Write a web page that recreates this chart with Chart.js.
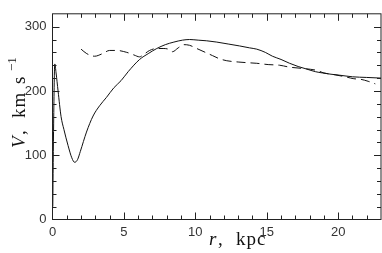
<!DOCTYPE html>
<html>
<head>
<meta charset="utf-8">
<script src="https://cdn.jsdelivr.net/npm/chart.js@4/dist/chart.umd.min.js"></script>
<style>
  html, body { margin: 0; padding: 0; background: #fff; }
  canvas { display: block; }
</style>
</head>
<body>
<canvas id="c" width="382" height="253"></canvas>
<script>
/* chart data */

// solid curve: radius (kpc) and rotation speed (km/s)
var solidR = [0.02, 0.08, 0.16, 0.25, 0.39, 0.6, 0.8, 1.09, 1.35, 1.55, 1.75, 1.95, 2.38, 2.84, 3.3, 3.78, 4.3, 4.8, 5.3, 6.1, 6.7, 7.3, 7.9, 8.5, 9.1, 9.6, 10.2, 10.8, 11.5, 12.3, 13.1, 13.8, 14.3, 14.9, 15.4, 16.0, 16.6, 17.2, 17.8, 18.4, 18.9, 19.5, 20.1, 21.0, 22.0, 23.0];
var solidV = [20, 150, 242, 228, 200, 160, 140, 115, 96, 89, 93, 106, 136, 161, 177, 190, 205, 216, 230, 249, 258, 266, 272, 276, 279, 280, 279, 278, 276, 273, 270, 267, 265, 260, 254, 249, 243, 238, 234, 230, 228, 226, 224.5, 222, 221, 220];

// dashed curve
var dashR = [2.0, 2.4, 2.95, 3.5, 4.0, 4.5, 5.2, 5.7, 6.1, 6.4, 6.8, 7.3, 7.8, 8.1, 8.4, 8.8, 9.2, 9.6, 10.1, 10.7, 11.2, 11.7, 12.2, 13.0, 13.6, 14.3, 15.1, 15.9, 16.6, 17.5, 18.5, 19.0, 19.8, 20.5, 21.1, 21.6, 22.1, 22.6];
var dashV = [265, 258, 254, 258, 263, 263, 260, 256, 253, 257, 263, 266, 266, 265, 261, 267, 272, 271, 266, 260, 255, 250, 247, 245, 244, 243, 241, 240, 237, 235, 232, 228, 225, 222, 219, 218, 215, 211];

// axes
var xTickStep = 5;
var yTickStep = 100;
var xMinorTicks = [1, 2, 3, 4, 5, 6, 7, 8, 9, 10, 11, 12, 13, 14, 15, 16, 17, 18, 19, 20, 21, 22];
var yMinorTicks = [20, 40, 60, 80, 100, 120, 140, 160, 180, 200, 220, 240, 260, 280, 300];

function toPoints(xs, ys) {
  var pts = [];
  for (var i = 0; i < xs.length; i++) {
    pts.push({ x: xs[i], y: ys[i] });
  }
  return pts;
}

/* frame, inward ticks and axis titles */
var frameTicks = {
  id: 'frameTicks',
  afterDraw: function(chart) {
    var ctx = chart.ctx;
    var a = chart.chartArea;
    var xs = chart.scales.x;
    var ys = chart.scales.y;

    ctx.save();
    ctx.strokeStyle = '#222';
    ctx.lineWidth = 1;
    ctx.strokeRect(a.left, a.top, a.right - a.left, a.bottom - a.top);

    ctx.beginPath();
    xMinorTicks.forEach(function(v) {
      var px = Math.round(xs.getPixelForValue(v)) + 0.5;
      var len = (v % xTickStep === 0) ? 7 : 4;
      ctx.moveTo(px, a.bottom); ctx.lineTo(px, a.bottom - len);
      ctx.moveTo(px, a.top); ctx.lineTo(px, a.top + len);
    });
    yMinorTicks.forEach(function(v) {
      var py = Math.round(ys.getPixelForValue(v)) + 0.5;
      var len = (v % yTickStep === 0) ? 7 : 4;
      ctx.moveTo(a.left, py); ctx.lineTo(a.left + len, py);
      ctx.moveTo(a.right, py); ctx.lineTo(a.right - len, py);
    });
    ctx.stroke();

    // x title: "r, kpc"
    ctx.fillStyle = '#111';
    ctx.textBaseline = 'alphabetic';
    ctx.textAlign = 'left';
    ctx.font = 'italic 19px "Liberation Serif"';
    ctx.fillText('r', 209, 245);
    ctx.font = '19px "Liberation Serif"';
    ctx.fillText(',', 218, 245);
    ctx.letterSpacing = '1px';
    ctx.fillText('kpc', 236, 245);
    ctx.letterSpacing = '0px';

    // y title: "V, km s^-1"
    ctx.translate(25, 148);
    ctx.rotate(-Math.PI / 2);
    ctx.font = 'italic 19px "Liberation Serif"';
    ctx.fillText('V', 0, 0);
    ctx.font = '19px "Liberation Serif"';
    ctx.fillText(',', 13, 0);
    ctx.letterSpacing = '1px';
    ctx.fillText('km', 30, 0);
    ctx.fillText('s', 64, 0);
    ctx.letterSpacing = '0px';
    ctx.font = '13px "Liberation Serif"';
    ctx.fillText('\u22121', 77, -9);
    ctx.restore();
  }
};

var tickFont = { family: '"Liberation Sans"', size: 13 };

new Chart(document.getElementById('c'), {
  type: 'line',
  data: {
    datasets: [
      {
        data: toPoints(solidR, solidV),
        borderColor: '#111',
        borderWidth: 1,
        pointRadius: 0,
        cubicInterpolationMode: 'monotone',
        fill: false
      },
      {
        data: toPoints(dashR, dashV),
        borderColor: '#111',
        borderWidth: 1,
        borderDash: [9, 5],
        pointRadius: 0,
        cubicInterpolationMode: 'monotone',
        fill: false
      }
    ]
  },
  options: {
    responsive: false,
    animation: false,
    devicePixelRatio: 1,
    layout: { padding: { left: 0, right: 1, top: 1, bottom: 0 } },
    plugins: {
      legend: { display: false },
      tooltip: { enabled: false }
    },
    scales: {
      x: {
        type: 'linear',
        min: 0,
        max: 23,
        grid: { display: false, drawTicks: false },
        border: { display: false },
        ticks: {
          stepSize: xTickStep,
          includeBounds: false,
          autoSkip: false,
          maxRotation: 0,
          padding: 5,
          color: '#333',
          font: tickFont
        },
        afterFit: function(s) { s.height = 33.5; }
      },
      y: {
        min: 0,
        max: 320,
        grid: { display: false, drawTicks: false },
        border: { display: false },
        ticks: {
          stepSize: yTickStep,
          includeBounds: false,
          padding: 6,
          color: '#333',
          font: tickFont
        },
        afterFit: function(s) { s.width = 52.5; }
      }
    }
  },
  plugins: [frameTicks]
});
</script>
</body>
</html>
